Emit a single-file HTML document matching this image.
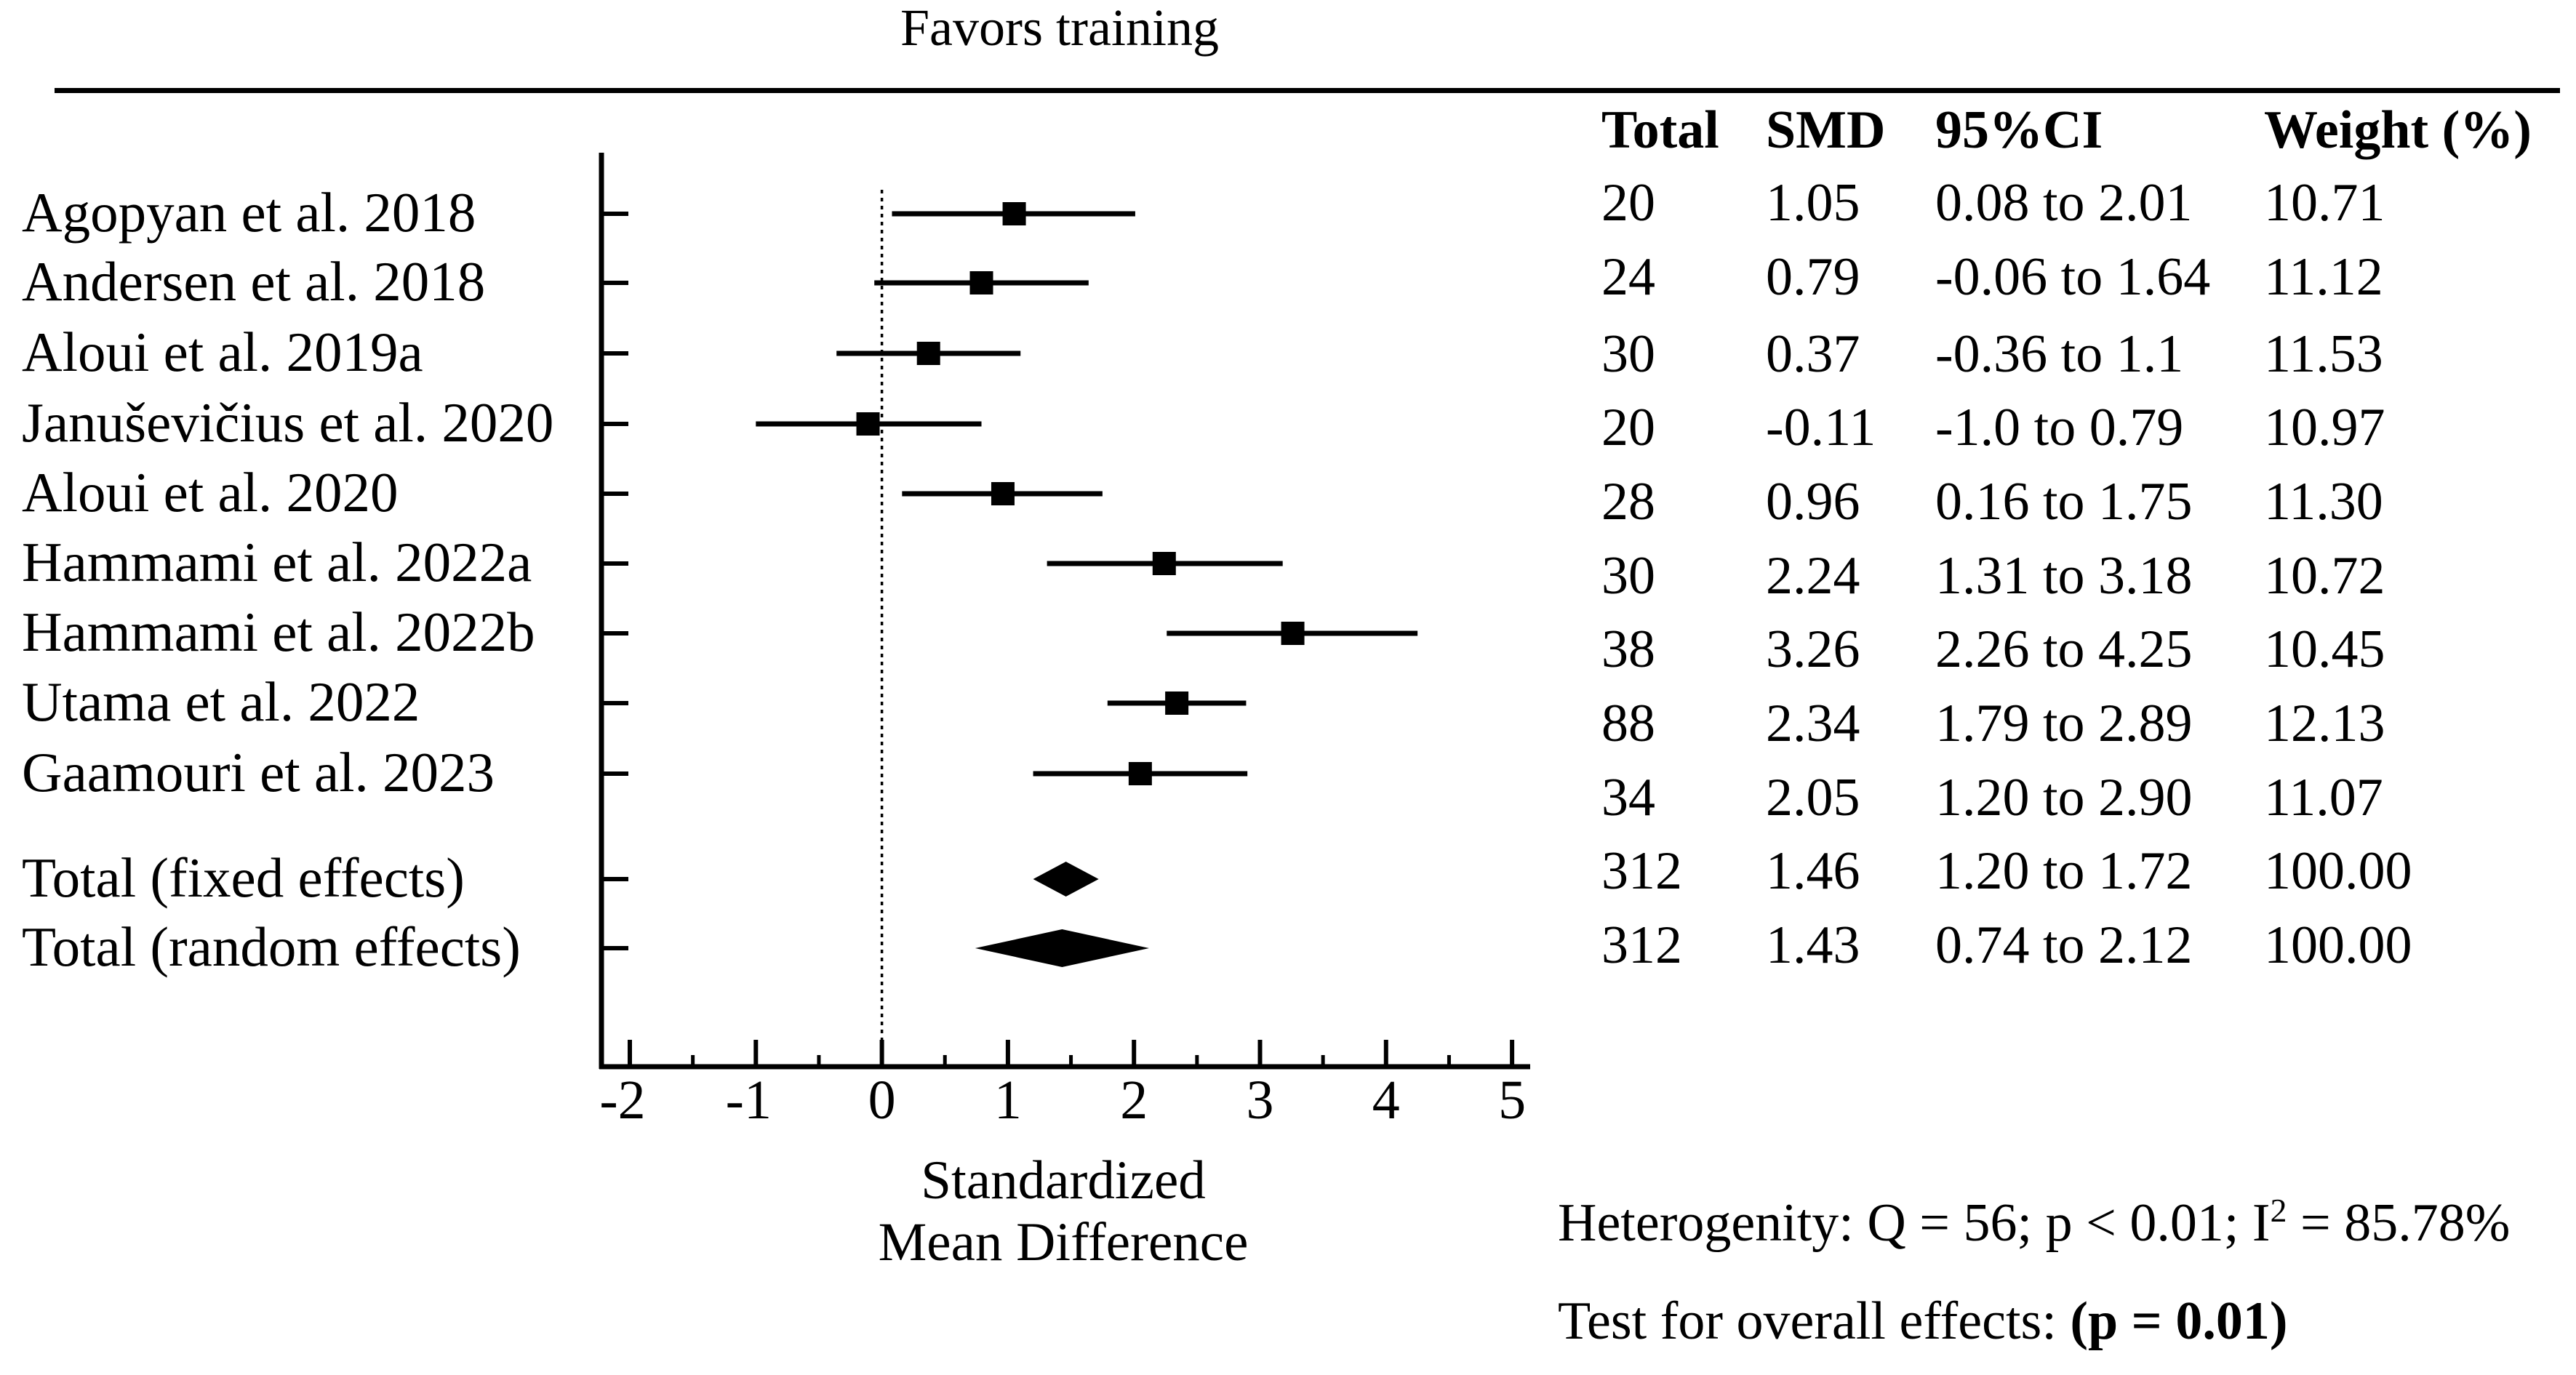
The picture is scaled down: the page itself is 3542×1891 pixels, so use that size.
<!DOCTYPE html>
<html><head><meta charset="utf-8"><style>
html,body{margin:0;padding:0;background:#fff}
svg{display:block}
text{font-family:"Liberation Serif",serif;fill:#000}
</style></head><body>
<svg id="chart" width="3542" height="1891" viewBox="0 0 3542 1891" xmlns="http://www.w3.org/2000/svg">
<text x="1457" y="62" font-size="72" text-anchor="middle">Favors training</text>
<rect x="75" y="121" width="3445" height="7" fill="#000"/>
<g id="plot"></g>
<g id="table"></g>
<text x="1462" y="1648" font-size="75" text-anchor="middle">Standardized</text>
<text x="1462" y="1733" font-size="75" text-anchor="middle">Mean Difference</text>
<text x="2142" y="1706" font-size="74">Heterogenity: Q = 56; p &lt; 0.01; I<tspan font-size="46" dy="-26">2</tspan><tspan dy="26"> = 85.78%</tspan></text>
<text x="2142" y="1841" font-size="74">Test for overall effects: <tspan font-weight="bold">(p = 0.01)</tspan></text>
</svg>
<script>
const studies=["Agopyan et al. 2018","Andersen et al. 2018","Aloui et al. 2019a","Januševičius et al. 2020","Aloui et al. 2020","Hammami et al. 2022a","Hammami et al. 2022b","Utama et al. 2022","Gaamouri et al. 2023","Total (fixed effects)","Total (random effects)"];
const totals=["20","24","30","20","28","30","38","88","34","312","312"];
const smd=[1.05,0.79,0.37,-0.11,0.96,2.24,3.26,2.34,2.05,1.46,1.43];
const ciLow=[0.08,-0.06,-0.36,-1.0,0.16,1.31,2.26,1.79,1.20,1.20,0.74];
const ciHigh=[2.01,1.64,1.1,0.79,1.75,3.18,4.25,2.89,2.90,1.72,2.12];
const ciText=["0.08 to 2.01","-0.06 to 1.64","-0.36 to 1.1","-1.0 to 0.79","0.16 to 1.75","1.31 to 3.18","2.26 to 4.25","1.79 to 2.89","1.20 to 2.90","1.20 to 1.72","0.74 to 2.12"];
const weights=["10.71","11.12","11.53","10.97","11.30","10.72","10.45","12.13","11.07","100.00","100.00"];
const xTicks=[-2,-1,0,1,2,3,4,5];
const NS="http://www.w3.org/2000/svg";
const plot=document.getElementById('plot'),table=document.getElementById('table');
const x=v=>1212.6+v*173.3;
const rowY=[294,389,486,583,679,775,871,967,1064,1209,1304];
const tabY=[278,380,486,587,689,791,892,994,1096,1197,1299];
function mk(tag,at,par){const e=document.createElementNS(NS,tag);for(const k in at)e.setAttribute(k,at[k]);par.appendChild(e);return e;}
let e=mk('line',{x1:827,y1:210,x2:827,y2:1470,stroke:'#000','stroke-width':7},plot);


e=mk('line',{x1:824,y1:1467,x2:2104,y2:1467,stroke:'#000','stroke-width':7},plot);


e=mk('line',{x1:x(0),y1:261,x2:x(0),y2:1467,stroke:'#000','stroke-width':3.5,'stroke-dasharray':'5 6'},plot);


xTicks.forEach((t,i)=>{
  let l=mk('line',{x1:x(t),y1:1430,x2:x(t),y2:1467,stroke:'#000','stroke-width':6},plot);
  
  
  let tx=mk('text',{x:x(t)-(t<0?10:0),y:1538,'font-size':76,'text-anchor':'middle'},plot);
  tx.textContent=String(t);
  
  
  if(i<xTicks.length-1){
    let m=mk('line',{x1:x(t+0.5),y1:1451,x2:x(t+0.5),y2:1467,stroke:'#000','stroke-width':5},plot);
    
    
  }
});
[["Total",2202],["SMD",2428],["95%CI",2661],["Weight (%)",3113]].forEach(h=>{
  let t=mk('text',{x:h[1],y:203,'font-size':74,'font-weight':'bold'},table);
  t.textContent=h[0];
  
  
});
studies.forEach((s,i)=>{
  const y=rowY[i];
  let lab=mk('text',{x:30,y:y+24,'font-size':77},plot);
  lab.textContent=s;
  
  
  let tk=mk('line',{x1:827,y1:y,x2:864,y2:y,stroke:'#000','stroke-width':6},plot);
  
  
  if(i<9){
    let ci=mk('line',{x1:x(ciLow[i]),y1:y,x2:x(ciHigh[i]),y2:y,stroke:'#000','stroke-width':7},plot);
    
    
    let sq=mk('rect',{x:x(smd[i])-16,y:y-16,width:32,height:32,fill:'#000'},plot);
    
    
  } else {
    const h=i===9?24:26;
    let d=mk('polygon',{points:`${x(ciLow[i])},${y} ${x(smd[i])},${y-h} ${x(ciHigh[i])},${y} ${x(smd[i])},${y+h}`,fill:'#000'},plot);
    
    
  }
  const ty=tabY[i]+25;
  [[totals[i],2202],[smd[i].toFixed(2),2428],[ciText[i],2661],[weights[i],3113]].forEach(c=>{
    let t=mk('text',{x:c[1],y:ty,'font-size':74},table);
    t.textContent=c[0];
    
    
  });
});
</script>
</body></html>
